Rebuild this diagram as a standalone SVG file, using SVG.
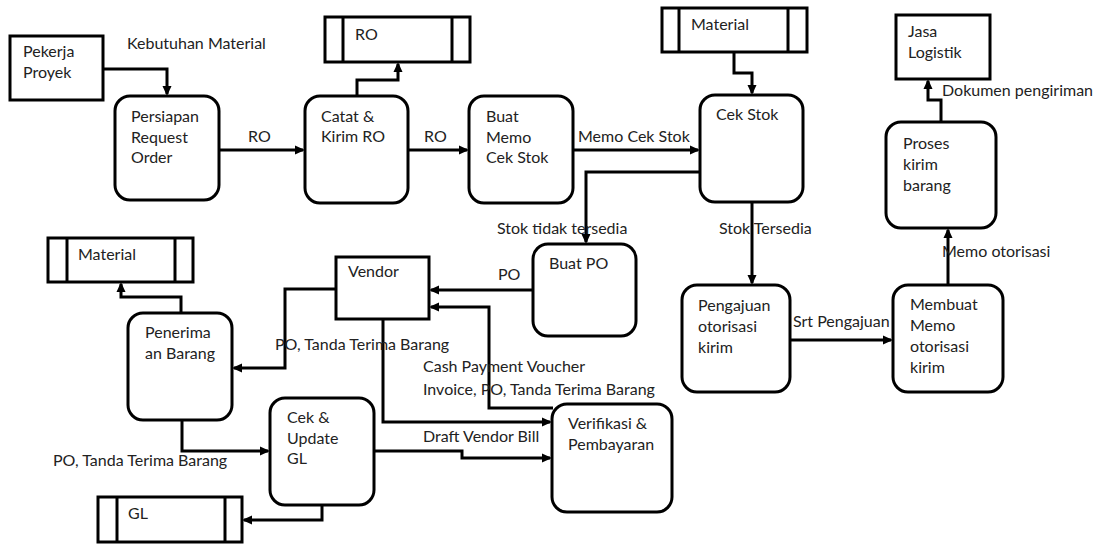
<svg xmlns="http://www.w3.org/2000/svg" width="1108" height="545" viewBox="0 0 1108 545">
  <style>
    .box { fill: #ffffff; stroke: #000000; stroke-width: 3; }
    .store line { stroke: #000000; stroke-width: 3; }
    .lbl { font-family: Lato, "Liberation Sans", sans-serif; font-size: 16px; fill: #222222; }
    .flow path { fill: none; stroke: #000000; stroke-width: 3; marker-end: url(#arrow); }
  </style>
  <defs>
    <marker id="arrow" markerUnits="userSpaceOnUse" markerWidth="10" markerHeight="10" viewBox="0 0 10 10" refX="8" refY="5" orient="auto">
      <path d="M0,0.5 L10,5 L0,9.5 z" fill="#000000"/>
    </marker>
  </defs>
  <rect width="1108" height="545" fill="#ffffff"/>

  <!-- connectors -->
  <g id="connectors" class="flow">
    <path d="M103,69 H167 V94"/>
    <path d="M219,150 H303"/>
    <path d="M357,96 V80 H398 V64"/>
    <path d="M408,150 H467"/>
    <path d="M573,150 H698"/>
    <path d="M734,52 V73 H752 V93"/>
    <path d="M700,172 H586 V242"/>
    <path d="M752,202 V283"/>
    <path d="M790,340 H891"/>
    <path d="M948,285 V230"/>
    <path d="M941,122 V100 H928 V81"/>
    <path d="M533,290 H431"/>
    <path d="M336,289 H285 V368 H234"/>
    <path d="M181,313 V297 H121 V284"/>
    <path d="M553,408 H489 V307 H431"/>
    <path d="M383,319 V422 H550"/>
    <path d="M182,420 V451 H268"/>
    <path d="M374,451 H462 V458 H550"/>
    <path d="M322,505 V520 H244"/>
  </g>

  <!-- connector labels -->
  <g id="labels" class="lbl">
    <text x="127" y="49">Kebutuhan Material</text>
    <text x="248" y="142">RO</text>
    <text x="424" y="142">RO</text>
    <text x="578" y="142">Memo Cek Stok</text>
    <text x="497" y="234">Stok tidak tersedia</text>
    <text x="719" y="234">Stok Tersedia</text>
    <text x="793" y="327">Srt Pengajuan</text>
    <text x="942" y="257">Memo otorisasi</text>
    <text x="942" y="96">Dokumen pengiriman</text>
    <text x="498" y="280">PO</text>
    <text x="275" y="350">PO, Tanda Terima Barang</text>
    <text x="423" y="372">Cash Payment Voucher</text>
    <text x="423" y="395">Invoice, PO, Tanda Terima Barang</text>
    <text x="423" y="442">Draft Vendor Bill</text>
    <text x="53" y="466">PO, Tanda Terima Barang</text>
  </g>

  <!-- external entities -->
  <g id="pekerja-proyek" class="lbl">
    <rect class="box" x="10" y="36" width="93" height="64"/>
    <text x="23" y="57">Pekerja</text>
    <text x="23" y="78">Proyek</text>
  </g>
  <g id="jasa-logistik" class="lbl">
    <rect class="box" x="896" y="15" width="94" height="64"/>
    <text x="908" y="37">Jasa</text>
    <text x="908" y="58">Logistik</text>
  </g>
  <g id="vendor" class="lbl">
    <rect class="box" x="336" y="257" width="93" height="62"/>
    <text x="348" y="277">Vendor</text>
  </g>

  <!-- data stores -->
  <g id="store-ro" class="lbl store">
    <rect class="box" x="325" y="17" width="145" height="45"/>
    <line x1="343" y1="17" x2="343" y2="62"/>
    <line x1="452" y1="17" x2="452" y2="62"/>
    <text x="355" y="40">RO</text>
  </g>
  <g id="store-material-1" class="lbl store">
    <rect class="box" x="662" y="8" width="145" height="44"/>
    <line x1="679" y1="8" x2="679" y2="52"/>
    <line x1="788" y1="8" x2="788" y2="52"/>
    <text x="691" y="30">Material</text>
  </g>
  <g id="store-material-2" class="lbl store">
    <rect class="box" x="48" y="238" width="145" height="44"/>
    <line x1="67" y1="238" x2="67" y2="282"/>
    <line x1="175" y1="238" x2="175" y2="282"/>
    <text x="78" y="260">Material</text>
  </g>
  <g id="store-gl" class="lbl store">
    <rect class="box" x="98" y="497" width="144" height="45"/>
    <line x1="117" y1="497" x2="117" y2="542"/>
    <line x1="225" y1="497" x2="225" y2="542"/>
    <text x="128" y="519">GL</text>
  </g>

  <!-- processes -->
  <g id="persiapan-request-order" class="lbl">
    <rect class="box" x="115" y="96" width="104" height="104" rx="15"/>
    <text x="131" y="122">Persiapan</text>
    <text x="131" y="143">Request</text>
    <text x="131" y="163">Order</text>
  </g>
  <g id="catat-kirim-ro" class="lbl">
    <rect class="box" x="305" y="96" width="103" height="107" rx="15"/>
    <text x="321" y="122">Catat &amp;</text>
    <text x="321" y="142">Kirim RO</text>
  </g>
  <g id="buat-memo-cek-stok" class="lbl">
    <rect class="box" x="469" y="96" width="104" height="107" rx="15"/>
    <text x="486" y="122">Buat</text>
    <text x="486" y="143">Memo</text>
    <text x="486" y="163">Cek Stok</text>
  </g>
  <g id="cek-stok" class="lbl">
    <rect class="box" x="700" y="95" width="103" height="107" rx="15"/>
    <text x="716" y="120">Cek Stok</text>
  </g>
  <g id="buat-po" class="lbl">
    <rect class="box" x="533" y="244" width="103" height="92" rx="15"/>
    <text x="549" y="269">Buat PO</text>
  </g>
  <g id="pengajuan-otorisasi-kirim" class="lbl">
    <rect class="box" x="682" y="285" width="108" height="107" rx="15"/>
    <text x="698" y="311">Pengajuan</text>
    <text x="698" y="332">otorisasi</text>
    <text x="698" y="353">kirim</text>
  </g>
  <g id="membuat-memo-otorisasi-kirim" class="lbl">
    <rect class="box" x="893" y="285" width="110" height="107" rx="15"/>
    <text x="910" y="310">Membuat</text>
    <text x="910" y="331">Memo</text>
    <text x="910" y="352">otorisasi</text>
    <text x="910" y="373">kirim</text>
  </g>
  <g id="proses-kirim-barang" class="lbl">
    <rect class="box" x="886" y="122" width="110" height="106" rx="15"/>
    <text x="903" y="149">Proses</text>
    <text x="903" y="170">kirim</text>
    <text x="903" y="191">barang</text>
  </g>
  <g id="penerimaan-barang" class="lbl">
    <rect class="box" x="128" y="313" width="104" height="107" rx="15"/>
    <text x="145" y="338">Penerima</text>
    <text x="145" y="359">an Barang</text>
  </g>
  <g id="cek-update-gl" class="lbl">
    <rect class="box" x="270" y="398" width="104" height="107" rx="15"/>
    <text x="287" y="423">Cek &amp;</text>
    <text x="287" y="444">Update</text>
    <text x="287" y="464">GL</text>
  </g>
  <g id="verifikasi-pembayaran" class="lbl">
    <rect class="box" x="552" y="404" width="120" height="108" rx="15"/>
    <text x="568" y="429">Verifikasi &amp;</text>
    <text x="568" y="450">Pembayaran</text>
  </g>
</svg>
